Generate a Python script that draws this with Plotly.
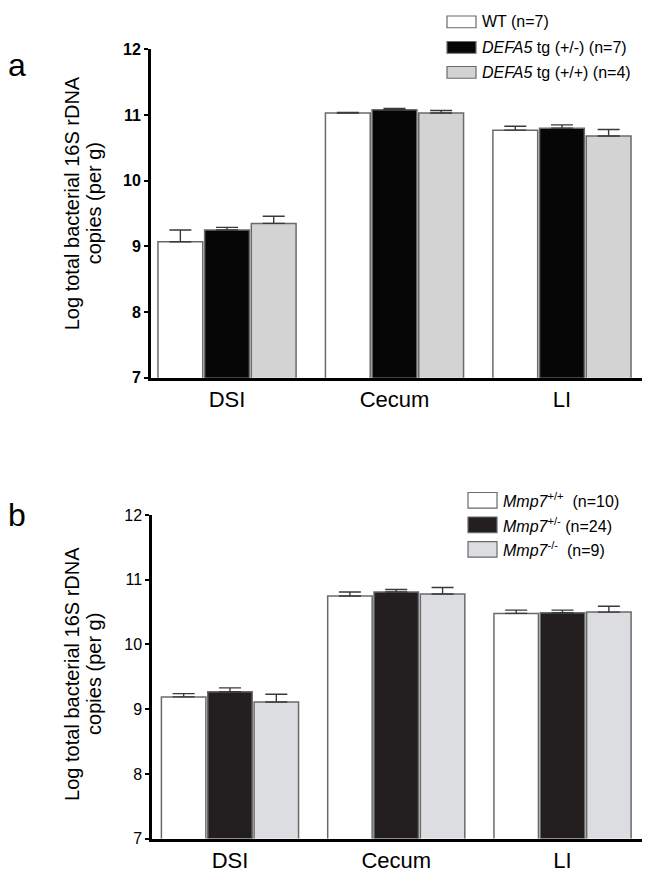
import plotly.graph_objects as go

categories = ["DSI", "Cecum", "LI"]

# Panel a (DEFA5)
a_names = ["WT (n=7)", "<i>DEFA5</i> tg (+/-) (n=7)", "<i>DEFA5</i> tg (+/+) (n=4)"]
a_wt = [9.07, 11.03, 10.77]
a_wt_err = [0.18, 0.01, 0.06]
a_het = [9.25, 11.08, 10.80]
a_het_err = [0.04, 0.02, 0.05]
a_hom = [9.35, 11.03, 10.68]
a_hom_err = [0.11, 0.04, 0.10]

# Panel b (Mmp7)
b_names = ["<i>Mmp7</i><sup>+/+</sup>\u00a0\u00a0(n=10)",
           "<i>Mmp7</i><sup>+/-</sup> (n=24)",
           "<i>Mmp7</i><sup>-/-</sup>\u00a0\u00a0(n=9)"]
b_wt = [9.19, 10.75, 10.48]
b_wt_err = [0.05, 0.06, 0.05]
b_het = [9.27, 10.81, 10.49]
b_het_err = [0.06, 0.04, 0.04]
b_ko = [9.11, 10.78, 10.50]
b_ko_err = [0.12, 0.10, 0.09]

y_ticks = [7, 8, 9, 10, 11, 12]

# page is 650x878; browser body margin is 8px
OFF = 8
W, H = 650 - OFF, 878 - OFF
def px(x):
    return (x - OFF) / W
def py(y):
    return 1 - (y - OFF) / H

fill_a = ["#ffffff", "#060606", "#d3d3d3"]
fill_b = ["#ffffff", "#231f20", "#dcdde0"]
edge = "#6a6a6a"

fig = go.Figure()

def add_bars(vals, errs, names, fills, xa, ya):
    for v, e, n, c in zip(vals, errs, names, fills):
        fig.add_trace(go.Bar(
            x=categories, y=v, name=n, xaxis=xa, yaxis=ya,
            marker=dict(color=c, line=dict(color=edge, width=1.5)),
            error_y=dict(type="data", array=e, arrayminus=[0]*len(e), symmetric=False,
                         color="#3a3a3a", thickness=1.4, width=11),
            showlegend=False,
        ))

add_bars([a_wt, a_het, a_hom], [a_wt_err, a_het_err, a_hom_err], a_names, fill_a, "x", "y")
add_bars([b_wt, b_het, b_ko], [b_wt_err, b_het_err, b_ko_err], b_names, fill_b, "x2", "y2")

font = "Liberation Sans, Arial, sans-serif"

fig.update_layout(
    width=W, height=H, autosize=False,
    margin=dict(l=0, r=0, t=0, b=0),
    paper_bgcolor="white", plot_bgcolor="white",
    barmode="group", bargap=0.164, bargroupgap=0.04,
    font=dict(family=font, color="black"),
    xaxis=dict(domain=[px(151), px(642)], anchor="y", range=[-0.454, 2.478],
               showline=True, linecolor="black", linewidth=3, ticks="",
               tickfont=dict(size=22, family=font), showgrid=False, zeroline=False),
    yaxis=dict(domain=[py(377), py(42)], anchor="x", range=[7, 12],
               tickvals=y_ticks, showline=True, linecolor="black", linewidth=3,
               ticks="outside", ticklen=4, tickwidth=2, tickcolor="black",
               tickfont=dict(size=16, family=font, weight="bold"),
               showgrid=False, zeroline=False),
    xaxis2=dict(domain=[px(152), px(642)], anchor="y2", range=[-0.469, 2.478],
                showline=True, linecolor="black", linewidth=3, ticks="",
                tickfont=dict(size=22, family=font), showgrid=False, zeroline=False),
    yaxis2=dict(domain=[py(847), py(517)], anchor="x2", range=[7, 12],
                tickvals=y_ticks, showline=True, linecolor="black", linewidth=2.5,
                ticks="outside", ticklen=4, tickwidth=2, tickcolor="black",
                tickfont=dict(size=16, family=font),
                showgrid=False, zeroline=False),
)

ann = []
shapes = []

def text(x, y, t, size, angle=0, xanchor="center"):
    ann.append(dict(x=px(x), y=py(y), text=t, showarrow=False, xref="paper", yref="paper",
                    xanchor=xanchor, yanchor="middle", textangle=angle,
                    font=dict(size=size, family=font)))

# panel letters
text(17, 58, "a", 32)
text(17, 517, "b", 32)
# y titles
for yc in (199, 679):
    text(72, yc, "Log total bacterial 16S rDNA", 20, -90)
    text(94, yc, "copies (per g)", 20, -90)

# legends
def legend(names, fills, x0, ycs, hh):
    for n, c, yc in zip(names, fills, ycs):
        shapes.append(dict(type="rect", xref="paper", yref="paper",
                           x0=px(x0), x1=px(x0 + 29), y0=py(yc + hh), y1=py(yc - hh),
                           fillcolor=c, line=dict(color=edge, width=1.2)))
        text(x0 + 33, yc, n, 16, 0, "left")

legend(a_names, fill_a, 447, [14, 40, 65.5], 6)
legend(b_names, fill_b, 468, [502, 527, 552], 8)

fig.update_layout(annotations=ann, shapes=shapes)
fig.write_html("out.html")
